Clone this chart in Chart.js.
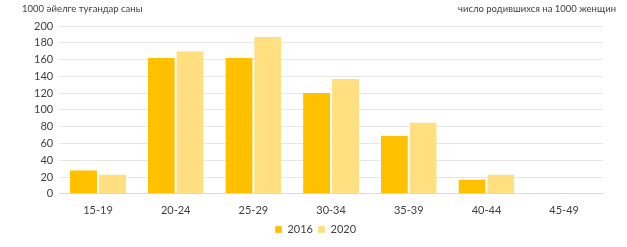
<!DOCTYPE html>
<html>
<head>
<meta charset="utf-8">
<script src="https://cdn.jsdelivr.net/npm/chart.js@4"></script>
<style>
  body { margin: 0; background: #fff; }
  #wrap { position: relative; width: 627px; height: 247px; }
  #barChart { display: block; }
  .note { position: absolute; top: 3px; font: 9.5px Lato, sans-serif; color: #404040; white-space: nowrap; }
  #noteLeft { left: 22px; }
  #noteRight { right: 11px; }
</style>
</head>
<body>
<div id="wrap">
  <canvas id="barChart" width="627" height="247"></canvas>
  <div class="note" id="noteLeft">1000 әйелге туғандар саны</div>
  <div class="note" id="noteRight">число родившихся на 1000 женщин</div>
</div>
<script>
const ageGroups = ['15-19', '20-24', '25-29', '30-34', '35-39', '40-44', '45-49'];
const births2016 = [28, 162, 162, 120, 69, 17, 1];
const births2020 = [23, 170, 187, 137, 85, 23, 1];

document.addEventListener('DOMContentLoaded', function () {
    const ctx = document.getElementById('barChart').getContext('2d');
    const tickFont = { family: 'Lato', size: 11 };
    new Chart(ctx, {
        type: 'bar',
        data: {
            labels: ageGroups,
            datasets: [
                {
                    label: '2016',
                    data: births2016,
                    backgroundColor: '#FFC000',
                    borderColor: '#ffffff',
                    borderWidth: { right: 1 },
                    borderSkipped: false
                },
                {
                    label: '2020',
                    data: births2020,
                    backgroundColor: '#FFDF80',
                    borderColor: '#ffffff',
                    borderWidth: { left: 1 },
                    borderSkipped: false
                }
            ]
        },
        options: {
            responsive: false,
            animation: false,
            layout: { padding: { left: 28, right: 24, top: 26, bottom: 2 } },
            datasets: { bar: { categoryPercentage: 0.72, barPercentage: 1 } },
            scales: {
                x: {
                    grid: { display: false },
                    border: { color: '#d9d9d9' },
                    ticks: { color: '#404040', font: tickFont, padding: 2 }
                },
                y: {
                    min: 0,
                    max: 200,
                    ticks: { stepSize: 20, color: '#404040', font: tickFont, padding: 6 },
                    grid: { color: '#e6e6e6', drawTicks: false },
                    border: { display: false }
                }
            },
            plugins: {
                legend: {
                    position: 'bottom',
                    labels: {
                        boxWidth: 7,
                        boxHeight: 7,
                        padding: 5,
                        color: '#404040',
                        font: tickFont
                    }
                },
                tooltip: { enabled: false }
            }
        }
    });
});
</script>
</body>
</html>
